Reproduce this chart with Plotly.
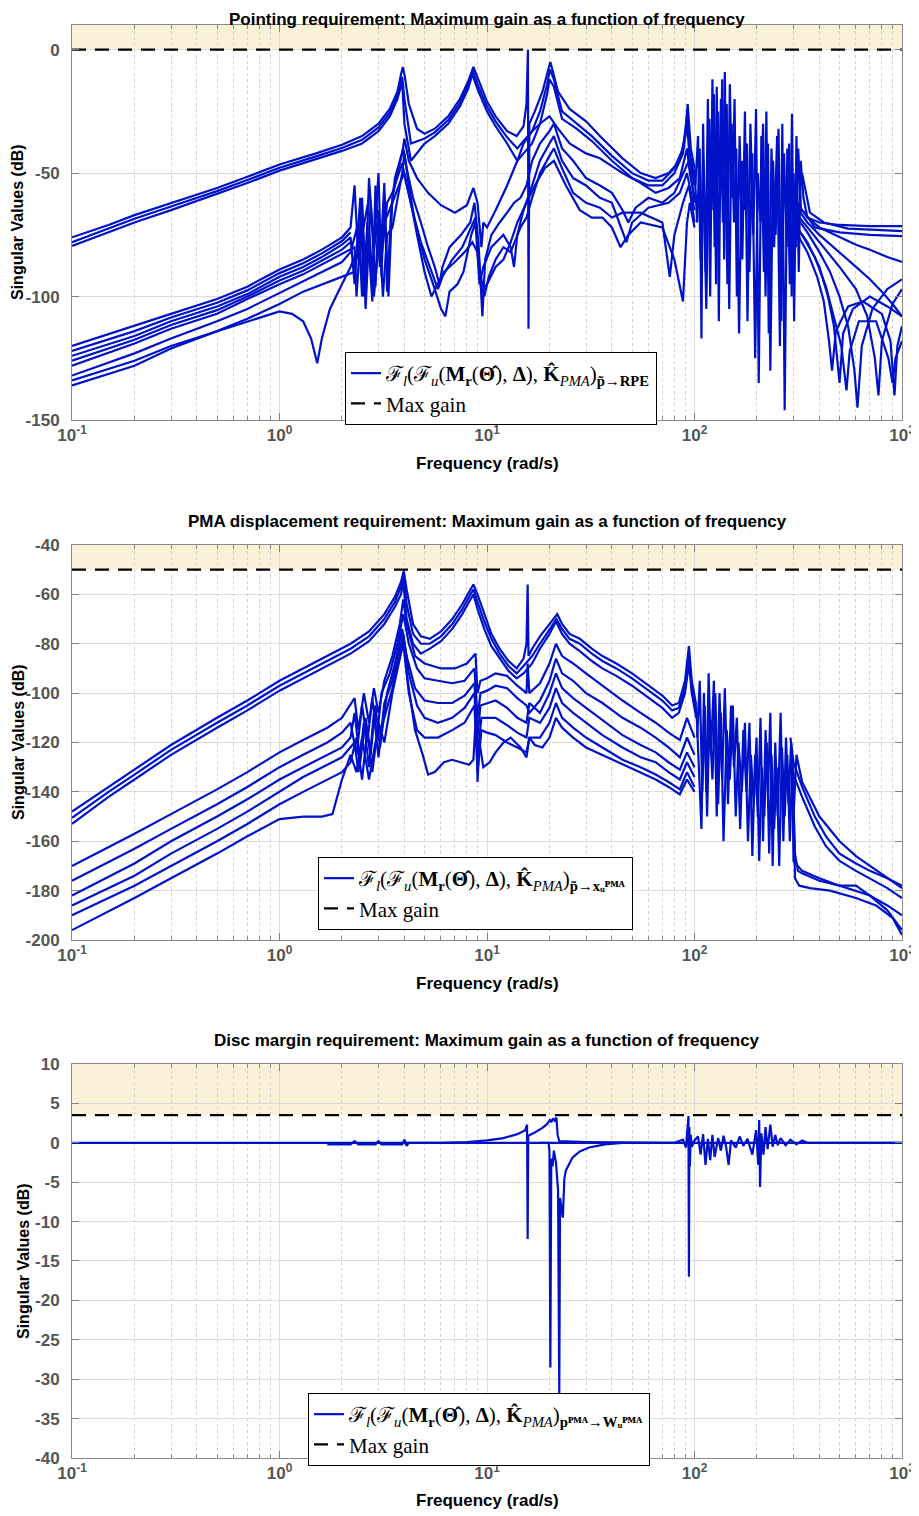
import plotly.graph_objects as go

# ---------------- data (frequency rad/s, singular value dB) ----------------
P1_MAX_GAIN = 0.0
P2_MAX_GAIN = -50.0
P3_MAX_GAIN = 3.5

# ---- Panel 1: pointing requirement ----
P1_UPPER_TOP = [(0.1,-76),(0.15,-71),(0.2,-67),(0.3,-62),(0.5,-56),(0.7,-51.5),(1.0,-46.5),(1.5,-42),(2.0,-38.5),(2.5,-35),(3.0,-30),(3.4,-24),(3.7,-17),(3.85,-10),(3.93,-7),(4.02,-11),(4.2,-22),(4.6,-32),(5.0,-34),(5.6,-32),(6.5,-27),(7.4,-20),(8.1,-13),(8.6,-7),(9.1,-12),(10,-21),(11,-27),(12.5,-33),(13.9,-35),(15.0,-31),(15.5,-22),(15.75,0),(15.85,-113),(16.0,-30),(17,-25),(18.5,-17),(19.6,-9),(20.2,-5),(20.8,-9),(22,-17),(25,-24),(30,-29),(35,-35),(45,-44),(55,-50),(65,-52),(75,-50),(85,-45),(90,-35),(92.7,-22),(96,-40),(100,-48)]
P1_UPPER_MID = [(0.1,-78),(0.15,-72.5),(0.2,-68.5),(0.3,-63.5),(0.5,-57.3),(0.7,-52.8),(1.0,-47.8),(1.5,-43.2),(2.0,-39.8),(2.5,-36.5),(3.0,-31.5),(3.4,-25.5),(3.7,-18.5),(3.9,-11),(4.0,-20),(4.3,-38),(4.6,-37),(5.0,-36),(5.6,-33.5),(6.5,-28.5),(7.4,-21.5),(8.1,-14.5),(8.55,-8.5),(9.0,-14),(10,-23),(11,-29),(12.5,-35.5),(14,-40),(15,-37),(16.5,-33),(18,-25),(19.5,-14),(20.1,-8),(21,-12),(23,-25),(27,-30),(32,-35),(40,-43),(50,-50),(60,-53),(70,-53),(80,-48),(88,-40),(92.5,-26),(95,-42),(100,-52)]
P1_UPPER_BOT = [(0.1,-79.5),(0.2,-70),(0.3,-65),(0.5,-58.5),(0.7,-54),(1.0,-49),(1.5,-44.5),(2.0,-41),(2.5,-38),(3.0,-33),(3.4,-27),(3.7,-20),(3.9,-13),(4.0,-30),(4.3,-45),(4.6,-42),(5.0,-38),(5.6,-35),(6.5,-30),(7.4,-23),(8.1,-16),(8.5,-10),(9.0,-16),(10,-25),(11,-31),(12.5,-38),(14,-45),(15,-42),(16.5,-38),(18,-30),(19.5,-18),(20,-12),(21,-15),(23,-28),(27,-32),(32,-37),(40,-45),(50,-52),(60,-55),(70,-55),(80,-50),(88,-42),(92,-30),(95,-45),(100,-55)]
P1_LOWER_1 = [(0.1,-120),(0.2,-112),(0.3,-107),(0.5,-101),(0.7,-96),(1.0,-89),(1.3,-85),(1.6,-81),(2.0,-76),(2.2,-72),(2.3,-55),(2.4,-85),(2.5,-60),(2.6,-95),(2.7,-52),(2.85,-80),(3.0,-50),(3.1,-92),(3.2,-58),(3.35,-100),(3.5,-60),(3.7,-50),(3.9,-42),(4.0,-36),(4.2,-45),(4.6,-52),(5.2,-58),(6.0,-63),(7.0,-66),(8.0,-63),(8.6,-56),(9.0,-62),(9.4,-80),(9.6,-70),(10,-72),(11,-65),(12.5,-55),(14,-45),(15,-38),(16.5,-33),(18,-30),(20,-27),(22,-32),(25,-38),(30,-42),(35,-44),(45,-50),(55,-54),(65,-58),(75,-56),(85,-52),(92,-40),(95,-50),(100,-60)]
P1_LOWER_1B = [(0.1,-122),(0.2,-114),(0.3,-108.5),(0.5,-102.5),(0.7,-97.5),(1.0,-90.5),(1.3,-86.5),(1.6,-82.5),(2.0,-77.5),(2.2,-74)]
P1_LOWER_2 = [(0.1,-124),(0.2,-116),(0.3,-110),(0.5,-104),(0.7,-99),(1.0,-92),(1.3,-88),(1.6,-84),(2.0,-79),(2.2,-76),(2.3,-95),(2.45,-60),(2.55,-100),(2.65,-70),(2.8,-102),(2.9,-55),(3.05,-88),(3.2,-54),(3.3,-98),(3.45,-65),(3.6,-52),(3.8,-45),(3.95,-40),(4.1,-48),(4.4,-60),(4.8,-70),(5.2,-80),(5.6,-88),(5.9,-95),(6.1,-88),(6.6,-80),(7.5,-75),(8.3,-70),(8.7,-62),(9.1,-78),(9.5,-108),(9.8,-85),(10.5,-75),(11.5,-70),(12.5,-66),(13.5,-62),(14.5,-60),(15.5,-55),(16.5,-45),(18,-38),(20,-33),(21,-30),(23,-40),(26,-45),(30,-52),(35,-55),(40,-58),(45,-65),(48,-70),(52,-64),(60,-60),(70,-62),(80,-58),(88,-50),(94,-45),(100,-62)]
P1_LOWER_2B = [(0.1,-126),(0.2,-117.5),(0.3,-111.5),(0.5,-105.5),(0.7,-100),(1.0,-93.5),(1.3,-89.5),(1.6,-85.5),(2.0,-81),(2.2,-78)]
P1_LOWER_3 = [(0.1,-128),(0.2,-119),(0.3,-113),(0.5,-107),(0.7,-101),(1.0,-95),(1.3,-91),(1.6,-87),(2.0,-83),(2.3,-80),(2.35,-100),(2.5,-65),(2.6,-105),(2.75,-62),(2.9,-96),(3.0,-65),(3.15,-100),(3.3,-75),(3.5,-72),(3.7,-60),(3.9,-50),(4.0,-42),(4.2,-55),(4.5,-70),(5.0,-85),(5.5,-95),(6.0,-105),(6.3,-108),(6.6,-98),(7.2,-95),(7.7,-90),(8.4,-75),(8.8,-70),(9.2,-95),(9.6,-88),(10.5,-80),(12,-75),(13,-80),(13.5,-88),(14,-75),(15,-65),(16.5,-55),(18,-45),(20,-38),(21,-35),(23,-45),(26,-52),(30,-55),(35,-60),(40,-62),(44,-72),(47,-78),(50,-70),(60,-64),(75,-62),(85,-58),(92,-50),(100,-65)]
P1_LOWER_4 = [(0.1,-132),(0.2,-123),(0.3,-117),(0.5,-110),(0.7,-105),(1.0,-98.5),(1.3,-94),(1.6,-90),(2.0,-86),(2.2,-82),(2.4,-70),(2.5,-100),(2.65,-75),(2.8,-88),(2.95,-70),(3.1,-85),(3.3,-62),(3.5,-58),(3.7,-52),(3.9,-46),(4.1,-55),(4.4,-66),(4.8,-78),(5.3,-88),(5.8,-97),(6.1,-92),(6.8,-85),(7.6,-80),(8.4,-72),(8.8,-68),(9.2,-88),(9.7,-100),(10.2,-92),(11,-85),(12,-80),(13,-82),(14.5,-72),(15.5,-68),(16.5,-60),(18,-50),(20,-43),(21,-40),(23,-48),(26,-58),(30,-62),(35,-64),(40,-68),(45,-66),(55,-66),(70,-70),(76,-92),(80,-75),(88,-62),(94,-55),(100,-70)]
P1_LOWER_5 = [(0.1,-136),(0.2,-128),(0.3,-121),(0.5,-114),(0.7,-109),(1.0,-103),(1.3,-98),(1.6,-95),(2.0,-92),(2.3,-90),(2.4,-78),(2.55,-98),(2.7,-72),(2.85,-100),(3.0,-80),(3.2,-70),(3.5,-62),(3.8,-54),(4.0,-50),(4.3,-62),(4.6,-75),(5.0,-90),(5.4,-100),(5.7,-96),(6.2,-90),(7.0,-86),(7.8,-82),(8.5,-78),(9.0,-82),(9.4,-98),(10,-95),(11,-88),(12,-85),(13,-78),(14,-70),(15.5,-62),(17,-55),(19,-48),(21,-45),(24,-55),(28,-65),(32,-68),(36,-68),(40,-72),(44,-80),(48,-75),(55,-70),(70,-72),(80,-85),(88,-102),(92,-70),(95,-62),(100,-72)]
P1_NOTCH = [(0.1,-134),(0.2,-126),(0.3,-120),(0.5,-114),(0.7,-110),(1.0,-106),(1.15,-107),(1.3,-110),(1.42,-117),(1.52,-127),(1.6,-117),(1.75,-105),(2.0,-95),(2.2,-88),(2.35,-82),(2.5,-75),(2.7,-60)]
P1_CHAOS_A = [(100,-48),(103,-70),(106,-40),(108,-117),(110,-30),(113,-90),(116,-20),(119,-100),(122,-12),(125,-80),(128,-15),(131,-110),(134,-20),(137,-70),(140,-9),(144,-95),(148,-14),(152,-60),(156,-20),(160,-100),(165,-35),(170,-85),(175,-25),(180,-110),(186,-30),(192,-75),(198,-24),(204,-135),(210,-35),(216,-90),(222,-25),(228,-115),(235,-40),(242,-80),(250,-35),(258,-120),(265,-30),(272,-146),(280,-40),(288,-95),(295,-26),(302,-110),(310,-35),(318,-90),(325,-45),(335,-60),(350,-68),(400,-70),(500,-71),(700,-71.5),(1000,-71.5)]
P1_CHAOS_B = [(101,-55),(104,-35),(107,-85),(110,-45),(114,-105),(118,-28),(121,-65),(124,-18),(127,-95),(130,-25),(133,-60),(136,-12),(139,-85),(143,-22),(147,-105),(151,-30),(155,-70),(159,-40),(164,-115),(169,-45),(174,-65),(179,-38),(184,-90),(190,-42),(196,-125),(202,-50),(208,-70),(214,-30),(220,-100),(226,-38),(232,-130),(239,-45),(246,-75),(254,-32),(262,-110),(270,-42),(278,-80),(286,-38),(294,-100),(300,-50),(308,-80),(316,-40),(326,-65),(340,-66),(380,-72),(500,-74),(700,-75),(1000,-75.5)]
P1_HF_BAND = [(330,-50),(360,-66),(420,-70),(550,-72.5),(750,-73),(1000,-73.5)]
P1_FAN_1 = [(300,-60),(350,-68),(400,-72),(500,-76),(600,-79),(700,-81),(850,-84),(1000,-86)]
P1_FAN_2 = [(300,-62),(350,-70),(400,-75),(500,-82),(600,-88),(700,-93),(800,-98),(900,-103),(1000,-108)]
P1_FAN_3 = [(300,-65),(350,-72),(400,-78),(500,-88),(600,-97),(680,-108),(740,-125),(770,-140),(800,-118),(900,-103),(1000,-97)]
P1_FAN_4 = [(300,-66),(350,-74),(400,-82),(450,-90),(500,-100),(550,-112),(590,-130),(610,-145),(640,-120),(720,-105),(850,-97),(1000,-93)]
P1_FAN_5 = [(300,-70),(350,-78),(400,-88),(440,-100),(470,-112),(500,-135),(520,-115),(580,-105),(700,-100),(850,-104),(1000,-108)]
P1_FAN_6 = [(300,-72),(350,-82),(390,-92),(420,-102),(445,-118),(460,-130),(480,-114),(550,-104),(650,-102),(800,-107),(880,-118),(920,-140),(950,-120),(1000,-112)]
P1_FAN_7 = [(330,-75),(380,-84),(430,-96),(470,-108),(510,-120),(540,-138),(560,-122),(620,-110),(750,-110),(860,-125),(900,-135),(930,-125),(1000,-118)]

# ---- Panel 2: PMA displacement requirement ----
P2_UPPER_TOP = [(0.1,-148),(0.15,-138),(0.2,-131),(0.3,-121),(0.5,-110),(0.7,-103),(1.0,-95),(1.3,-90),(1.7,-85),(2.2,-80),(2.7,-75),(3.2,-68),(3.6,-61),(3.85,-55),(3.97,-50.5),(4.1,-58),(4.4,-72),(4.8,-77),(5.3,-78),(6,-75),(6.8,-70),(7.6,-64),(8.2,-59),(8.6,-56),(9.0,-60),(9.7,-68),(10.5,-76),(11.5,-82),(12.7,-87),(13.9,-90),(15,-86),(15.5,-80),(15.7,-56),(15.85,-85),(16.5,-82),(18,-77),(20,-72),(21.8,-68),(23,-72),(25,-76),(28,-78),(32,-82),(36,-85),(42,-88),(50,-92),(60,-97),(70,-101),(78,-105),(84,-104),(90,-95),(94,-81),(97,-95),(102,-105)]
P2_UPPER_MID = [(0.1,-150.5),(0.15,-140),(0.2,-133),(0.3,-123),(0.5,-112),(0.7,-105),(1.0,-97),(1.3,-92),(1.7,-87),(2.2,-82),(2.7,-77),(3.2,-70),(3.6,-63),(3.85,-57),(3.96,-52),(4.1,-64),(4.4,-76),(4.8,-80),(5.3,-80),(6,-77),(6.8,-72),(7.6,-66),(8.2,-61),(8.6,-58),(9.0,-63),(9.7,-71),(10.5,-78),(11.5,-84),(12.7,-89),(13.9,-92),(15,-89),(16.5,-85),(18,-80),(20,-74),(21.6,-70),(23,-74),(25,-78),(28,-80),(32,-84),(36,-87),(42,-90),(50,-94),(60,-99),(70,-103),(78,-107),(84,-106),(90,-98),(94,-85),(97,-98),(102,-108)]
P2_UPPER_BOT = [(0.1,-153),(0.15,-142),(0.2,-135),(0.3,-125),(0.5,-114),(0.7,-107),(1.0,-99),(1.3,-94),(1.7,-89),(2.2,-84),(2.7,-79),(3.2,-72),(3.6,-65),(3.85,-60),(3.95,-55),(4.1,-70),(4.4,-80),(4.8,-84),(5.3,-82),(6,-79),(6.8,-74),(7.6,-68),(8.2,-63),(8.6,-60),(9.0,-66),(9.7,-74),(10.5,-81),(11.5,-86),(12.7,-91),(13.9,-94),(15,-92),(16.5,-88),(18,-82),(20,-76),(21.5,-71),(23,-76),(25,-80),(28,-83),(32,-87),(36,-90),(42,-93),(50,-97),(60,-102),(70,-106),(78,-110),(84,-108),(90,-100),(94,-88),(97,-100),(102,-110)]
P2_LOWER_1 = [(0.1,-170),(0.2,-157),(0.3,-149),(0.5,-139),(0.7,-132),(1.0,-124),(1.3,-119),(1.7,-114),(2.0,-110),(2.3,-102),(2.4,-115),(2.55,-100),(2.7,-112),(2.85,-98),(3.0,-108),(3.2,-95),(3.5,-85),(3.8,-72),(3.95,-62),(4.1,-72),(4.5,-85),(5.0,-88),(6.0,-90),(7.0,-90),(8.0,-88),(8.8,-84),(9.0,-100),(9.3,-95),(10,-94),(11,-92),(12.5,-93),(14,-97),(15.5,-100),(15.7,-88),(16,-100),(18,-96),(20,-88),(21.5,-80),(23,-85),(26,-88),(30,-92),(36,-97),(45,-103),(55,-108),(65,-112),(75,-116),(85,-119),(92,-110),(100,-118)]
P2_LOWER_2 = [(0.1,-176),(0.2,-163),(0.3,-155),(0.5,-145),(0.7,-138),(1.0,-130),(1.3,-125),(1.7,-120),(2.0,-116),(2.2,-112),(2.35,-125),(2.5,-105),(2.65,-120),(2.8,-102),(2.95,-118),(3.1,-100),(3.4,-92),(3.7,-80),(3.95,-68),(4.2,-80),(4.6,-90),(5.0,-94),(5.8,-95),(6.8,-96),(7.8,-95),(8.7,-90),(9.0,-110),(9.3,-100),(10,-99),(11,-97),(12.5,-98),(14,-102),(15.5,-105),(16,-108),(18,-103),(20,-95),(21.5,-86),(23,-92),(26,-95),(30,-100),(36,-104),(45,-110),(55,-114),(65,-118),(75,-122),(85,-126),(92,-118),(100,-125)]
P2_LOWER_3 = [(0.1,-182),(0.2,-169),(0.3,-160),(0.5,-150),(0.7,-143),(1.0,-135),(1.3,-130),(1.7,-125),(2.0,-122),(2.2,-118),(2.3,-108),(2.45,-128),(2.6,-110),(2.75,-125),(2.9,-105),(3.05,-122),(3.3,-100),(3.6,-88),(3.9,-74),(4.1,-85),(4.5,-98),(5.0,-103),(5.8,-104),(6.8,-104),(7.8,-101),(8.7,-96),(9.0,-118),(9.3,-105),(10,-104),(11,-103),(12.5,-106),(14,-110),(15.5,-112),(16,-104),(18,-108),(20,-100),(21.5,-92),(23,-98),(26,-102),(30,-106),(36,-111),(45,-117),(55,-121),(65,-124),(75,-128),(85,-131),(92,-124),(100,-130)]
P2_LOWER_4 = [(0.1,-186),(0.2,-174),(0.3,-165),(0.5,-155),(0.7,-148),(1.0,-140),(1.3,-134),(1.7,-129),(2.0,-126),(2.3,-120),(2.4,-132),(2.55,-112),(2.7,-130),(2.85,-108),(3.0,-126),(3.2,-104),(3.5,-95),(3.8,-82),(3.95,-76),(4.2,-92),(4.6,-105),(5.0,-110),(5.8,-112),(6.8,-110),(7.8,-106),(8.7,-100),(9.0,-125),(9.4,-110),(10,-110),(11,-110),(12.5,-113),(14,-116),(15.5,-118),(16,-110),(18,-112),(20,-106),(21.5,-98),(23,-104),(26,-108),(30,-112),(36,-117),(45,-122),(55,-126),(65,-128),(75,-132),(85,-135),(92,-128),(100,-134)]
P2_LOWER_5 = [(0.1,-190),(0.2,-178),(0.3,-170),(0.5,-160),(0.7,-153),(1.0,-145),(1.3,-140),(1.6,-136),(2.0,-132),(2.2,-128),(2.35,-118),(2.5,-135),(2.65,-115),(2.8,-132),(3.0,-112),(3.2,-120),(3.5,-100),(3.8,-86),(3.95,-80),(4.2,-100),(4.6,-115),(5.0,-118),(5.8,-118),(6.8,-115),(7.8,-112),(8.7,-105),(9.0,-132),(9.4,-115),(10,-116),(11,-117),(12.5,-120),(14,-122),(15.5,-124),(16,-118),(18,-118),(20,-112),(21.5,-104),(23,-110),(26,-114),(30,-118),(36,-122),(45,-127),(55,-130),(65,-133),(75,-136),(85,-139),(92,-132),(100,-138)]
P2_LOWER_6 = [(0.1,-196),(0.2,-183),(0.3,-175),(0.5,-165),(0.7,-158),(1.0,-151),(1.3,-150),(1.6,-150),(1.8,-149),(2.0,-135),(2.2,-125),(2.35,-132),(2.5,-118),(2.7,-135),(2.9,-120),(3.2,-110),(3.5,-98),(3.8,-85),(3.97,-78),(4.15,-95),(4.5,-115),(4.9,-125),(5.2,-133),(5.6,-132),(6.2,-128),(6.8,-127),(7.5,-128),(8.2,-129),(8.6,-127),(8.9,-105),(9.0,-136),(9.2,-120),(9.6,-130),(10.3,-128),(11,-124),(12,-120),(13,-118),(14.5,-122),(15.5,-126),(16,-118),(17,-121),(18.5,-122),(20,-118),(21.5,-110),(23,-114),(26,-118),(30,-122),(36,-125),(45,-129),(55,-132),(65,-135),(75,-138),(85,-141),(92,-135),(100,-140)]
P2_CHAOS_A = [(102,-105),(105,-130),(108,-155),(111,-100),(114,-140),(117,-92),(120,-125),(124,-95),(128,-150),(132,-100),(136,-135),(140,-98),(145,-145),(150,-105),(155,-130),(160,-110),(166,-155),(172,-115),(178,-140),(184,-112),(190,-166),(196,-125),(202,-150),(208,-110),(214,-160),(220,-115),(226,-140),(232,-108),(238,-170),(245,-120),(252,-150),(260,-108),(268,-160),(276,-118),(284,-145),(292,-120),(300,-150),(310,-125),(330,-136),(400,-150),(500,-160),(600,-166),(700,-170),(850,-175),(1000,-179)]
P2_CHAOS_B = [(103,-118),(106,-95),(109,-140),(112,-105),(115,-150),(118,-110),(122,-135),(126,-100),(130,-145),(134,-108),(138,-160),(143,-115),(148,-135),(153,-105),(158,-150),(163,-120),(169,-140),(175,-112),(181,-160),(187,-125),(193,-145),(199,-118),(205,-168),(211,-130),(217,-150),(223,-120),(229,-165),(235,-125),(242,-155),(249,-130),(256,-170),(264,-122),(272,-150),(280,-125),(288,-160),(296,-128),(305,-165),(315,-172),(330,-173),(400,-176),(500,-178),(700,-182),(850,-186),(1000,-190)]
P2_HF_TOP = [(290,-118),(300,-128),(330,-138),(380,-150),(430,-158),(500,-165),(600,-169),(700,-172),(850,-175),(1000,-178)]
P2_HF_BOT = [(292,-122),(300,-133),(330,-142),(380,-154),(430,-162),(500,-168),(600,-172),(700,-175),(850,-179),(1000,-183)]
P2_HF_LOW_1 = [(295,-125),(300,-168),(330,-172),(400,-175),(500,-178),(600,-178),(700,-182),(850,-188),(1000,-196)]
P2_HF_LOW_2 = [(298,-130),(305,-175),(320,-178),(360,-179),(450,-180),(600,-183),(750,-186),(900,-191),(1000,-198)]

# ---- Panel 3: disc margin requirement ----
P3_BASE = [(0.1,0),(1.0,0),(10,0),(100,0),(1000,0)]
P3_MID = [(1.7,-0.2),(2.2,-0.2),(2.3,0.2),(2.4,-0.2),(2.9,-0.2),(3.0,0.2),(3.1,-0.2),(3.9,-0.2),(4.0,0.4),(4.1,-0.4),(4.2,0),(6,0),(8,0.1),(10,0.3),(12,0.6),(14,1.1),(15.3,1.6),(15.6,2.3),(15.7,-12.2),(15.8,0.9),(17,1.3),(18.5,1.9),(19.5,2.4),(20.1,2.9),(20.4,2.6),(20.8,3.1),(21.2,2.8),(21.6,3.2),(21.9,1.0),(22.3,0.2),(30,0.1),(60,0),(80,0)]
P3_DIPS = [(18,0),(19.8,0),(20.0,-1),(20.2,-28.5),(20.4,-2.0),(20.7,-3.0),(21.0,-1.0),(21.5,-2.5),(22.0,-6),(22.3,-32),(22.5,-7),(23.2,-9.5),(23.6,-4.5),(24,-3.5),(25.8,-1.9),(28,-1.1),(31,-0.6),(37,-0.2),(45,0)]
P3_HF = [(80,0),(88,0.4),(91,-0.6),(93.5,3.4),(94,-17),(94.5,2),(95,-3),(96,1),(97,-0.5),(100,0.3),(104,0.8),(107,-1.5),(110,1.1),(113,-2.8),(116,0.5),(119,-2.2),(122,1.0),(125,-1.8),(130,0.6),(134,-1),(138,0.9),(142,-0.5),(146,-2.8),(150,0.3),(158,-0.6),(165,0.8),(172,-0.4),(180,0.5),(190,-1.5),(198,1.6),(203,-2.8),(205,2.9),(207,-5.6),(210,1.2),(215,-1.5),(220,2.0),(225,-0.8),(232,2.3),(238,-0.5),(245,1.0),(252,-0.3),(260,0.6),(275,-0.3),(290,0.4),(310,-0.2),(330,0.3),(350,0),(1000,0)]

X_TICKS = [0.1, 1, 10, 100, 1000]
X_TICKTEXT = ["10<sup>-1</sup>", "10<sup>0</sup>", "10<sup>1</sup>", "10<sup>2</sup>", "10<sup>3</sup>"]
X_MINOR = [m * d for d in (0.1, 1, 10, 100) for m in range(2, 10)]

TITLES = ["Pointing requirement: Maximum gain as a function of frequency",
          "PMA displacement requirement: Maximum gain as a function of frequency",
          "Disc margin requirement: Maximum gain as a function of frequency"]

LEGEND_TEXT = [
    "ℱ<sub><i>l</i></sub>(ℱ<sub><i>u</i></sub>(<b>M</b><sub><b>r</b></sub>(<b>Θ̂</b>), <b>Δ</b>), <b>K̂</b><sub><i>PMA</i></sub>)<sub><b>p̃→RPE</b></sub>",
    "ℱ<sub><i>l</i></sub>(ℱ<sub><i>u</i></sub>(<b>M</b><sub><b>r</b></sub>(<b>Θ̂</b>), <b>Δ</b>), <b>K̂</b><sub><i>PMA</i></sub>)<sub><b>p̃→xᵤᴾᴹᴬ</b></sub>",
    "ℱ<sub><i>l</i></sub>(ℱ<sub><i>u</i></sub>(<b>M</b><sub><b>r</b></sub>(<b>Θ̂</b>), <b>Δ</b>), <b>K̂</b><sub><i>PMA</i></sub>)<sub><b>pᴾᴹᴬ→Wᵤᴾᴹᴬ</b></sub>",
]

P1_TRACES = [P1_UPPER_TOP, P1_UPPER_MID, P1_UPPER_BOT, P1_LOWER_1, P1_LOWER_1B, P1_LOWER_2, P1_LOWER_2B,
             P1_LOWER_3, P1_LOWER_4, P1_LOWER_5, P1_NOTCH, P1_CHAOS_A, P1_CHAOS_B, P1_HF_BAND,
             P1_FAN_1, P1_FAN_2, P1_FAN_3, P1_FAN_4, P1_FAN_5, P1_FAN_6, P1_FAN_7]
P2_TRACES = [P2_UPPER_TOP, P2_UPPER_MID, P2_UPPER_BOT, P2_LOWER_1, P2_LOWER_2, P2_LOWER_3, P2_LOWER_4,
             P2_LOWER_5, P2_LOWER_6, P2_CHAOS_A, P2_CHAOS_B, P2_HF_TOP, P2_HF_BOT, P2_HF_LOW_1, P2_HF_LOW_2]
P3_TRACES = [P3_BASE, P3_MID, P3_DIPS, P3_HF]

PANELS = [
    dict(traces=P1_TRACES, gain=P1_MAX_GAIN, yrange=[-150, 10], yticks=[-150, -100, -50, 0],
         ydomain=[0.72435, 1.0]),
    dict(traces=P2_TRACES, gain=P2_MAX_GAIN, yrange=[-200, -40], yticks=list(range(-200, -39, 20)),
         ydomain=[0.36148, 0.63713]),
    dict(traces=P3_TRACES, gain=P3_MAX_GAIN, yrange=[-40, 10], yticks=list(range(-40, 11, 5)),
         ydomain=[0.0, 0.27495]),
]

# ---------------- figure ----------------
# The page body has an 8px margin, so the figure is drawn 8px smaller and
# positions below are given in window pixels.
BLUE = "rgb(0,18,200)"
OFF = 8
W, H = 919 - OFF, 1516 - OFF
ML, MR, MT, MB = 72 - OFF, 17, 25 - OFF, 58
PH = H - MT - MB
PW = W - ML - MR
SANS = "Liberation Sans, Arial, sans-serif"


def py(px):
    return 1 - (px - OFF - MT) / PH


def pxx(px):
    return (px - OFF - ML) / PW


fig = go.Figure()
legend_names = ["legend", "legend2", "legend3"]
tickfont = dict(family=SANS, size=17, color="#555555", weight="bold")

for i, p in enumerate(PANELS):
    sfx = "" if i == 0 else str(i + 1)
    xa, ya = "x" + sfx, "y" + sfx
    for j, tr in enumerate(p["traces"]):
        xs = [a for a, b in tr]
        ys = [b for a, b in tr]
        fig.add_trace(go.Scatter(x=xs, y=ys, mode="lines", xaxis=xa, yaxis=ya,
                                 line=dict(color=BLUE, width=2.2),
                                 name=LEGEND_TEXT[i], showlegend=(j == 0),
                                 legend=legend_names[i], hoverinfo="skip"))
    fig.add_trace(go.Scatter(x=[X_TICKS[0], X_TICKS[-1]], y=[p["gain"], p["gain"]], mode="lines",
                             xaxis=xa, yaxis=ya, line=dict(color="black", width=2.2, dash="14px,9px"),
                             name="Max gain", showlegend=True, legend=legend_names[i], hoverinfo="skip"))
    fig.add_shape(type="rect", xref=xa + " domain", yref=ya, x0=0, x1=1, y0=p["gain"], y1=p["yrange"][1],
                  fillcolor="#FBF1D9", line=dict(width=0), layer="below")

    fig.layout["xaxis" + sfx] = dict(
        type="log", range=[-1, 3], domain=[0, 1], anchor=ya, automargin=False,
        tickvals=X_TICKS, ticktext=X_TICKTEXT, tickfont=tickfont,
        ticks="inside", ticklen=7, tickcolor="#808080",
        showline=True, linecolor="#8a8a8a", linewidth=1, mirror="ticks",
        showgrid=True, gridcolor="#dcdcdc", gridwidth=1, zeroline=False,
        minor=dict(tickvals=X_MINOR, ticks="inside", ticklen=4, tickcolor="#8a8a8a",
                   showgrid=True, gridcolor="#d2d2d2", griddash="dot", gridwidth=1),
    )
    fig.layout["yaxis" + sfx] = dict(
        range=p["yrange"], domain=p["ydomain"], anchor=xa, automargin=False,
        tickvals=p["yticks"], ticktext=[str(v) for v in p["yticks"]],
        tickfont=tickfont, ticklabelstandoff=8,
        ticks="inside", ticklen=7, tickcolor="#808080",
        showline=True, linecolor="#8a8a8a", linewidth=1, mirror="ticks",
        showgrid=True, gridcolor="#dcdcdc", gridwidth=1, zeroline=False,
    )

title_y = [14, 521, 1040]
xlabel_y = [463, 983, 1500]
ylabel = [(18, 222), (18, 742), (23, 1261)]
legend_pos = [(345, 352), (318, 857), (308, 1393)]

annotations = []
for i in range(3):
    if i == 0:
        tpos = dict(y=py(8.5), yanchor="top")
    else:
        tpos = dict(y=py(title_y[i]), yanchor="middle")
    annotations.append(dict(text="<b>" + TITLES[i] + "</b>", xref="paper", yref="paper",
                            x=0.5, xanchor="center", showarrow=False,
                            font=dict(family=SANS, size=17, color="black"), **tpos))
    annotations.append(dict(text="<b>Frequency (rad/s)</b>", xref="paper", yref="paper",
                            x=0.5, y=py(xlabel_y[i]), xanchor="center", yanchor="middle", showarrow=False,
                            font=dict(family=SANS, size=17, color="black")))
    annotations.append(dict(text="<b>Singular Values (dB)</b>", xref="paper", yref="paper",
                            x=pxx(ylabel[i][0]), y=py(ylabel[i][1]), xanchor="center", yanchor="middle",
                            textangle=-90, showarrow=False,
                            font=dict(family=SANS, size=16, color="black")))

legend_common = dict(xanchor="left", yanchor="top", bgcolor="white", bordercolor="black", borderwidth=1,
                     font=dict(family="Liberation Serif, DejaVu Serif, serif", size=21, color="black"),
                     tracegroupgap=0, itemwidth=30)
layout_legends = {}
for i, name in enumerate(legend_names):
    lx, ly = legend_pos[i]
    layout_legends[name] = dict(x=pxx(lx), y=py(ly), **legend_common)

fig.update_layout(width=W, height=H, margin=dict(l=ML, r=MR, t=MT, b=MB, autoexpand=False),
                  paper_bgcolor="white", plot_bgcolor="white",
                  annotations=annotations, **layout_legends)

fig.write_html("out.html")
